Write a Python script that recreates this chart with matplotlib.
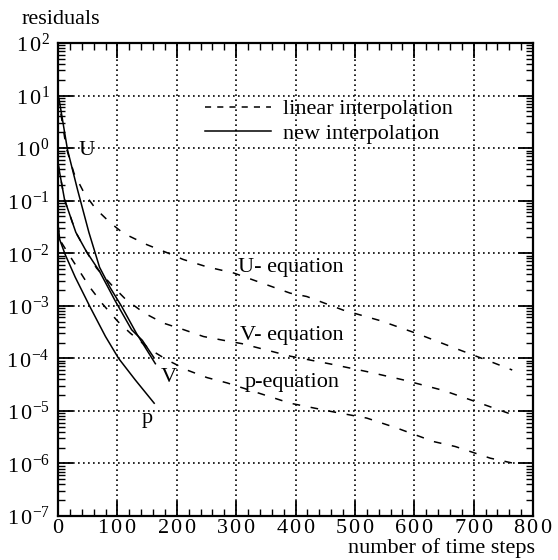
import math

import matplotlib
matplotlib.use("Agg")

import matplotlib.pyplot as plt
from matplotlib.lines import Line2D
from matplotlib.ticker import FuncFormatter, LogLocator, MultipleLocator, NullFormatter

plt.rcParams["font.family"] = "serif"
plt.rcParams["font.serif"] = ["Liberation Serif", "DejaVu Serif"]
plt.rcParams["mathtext.fontset"] = "custom"
plt.rcParams["mathtext.rm"] = "Liberation Serif"
plt.rcParams["mathtext.it"] = "Liberation Serif:italic"
plt.rcParams["mathtext.bf"] = "Liberation Serif:bold"

# new interpolation (solid)
u_new_x = [0, 2, 16, 33, 52, 70, 88, 107, 132, 164]
u_new_y = [10, 8.3, 0.93, 0.16, 0.025, 5.4e-3, 2.2e-3, 9.8e-4, 3.0e-4, 7.9e-5]
v_new_x = [0, 11, 30, 48, 70, 96, 124, 142, 161]
v_new_y = [0.51, 0.105, 0.025, 0.0107, 4.5e-3, 1.26e-3, 3.5e-4, 2.2e-4, 1.05e-4]
p_new_x = [0, 3, 12, 29, 54, 80, 102, 130, 162]
p_new_y = [0.035, 0.018, 0.0095, 3.5e-3, 9.5e-4, 2.6e-4, 1.0e-4, 3.9e-5, 1.4e-5]

# linear interpolation (dashed)
u_lin_x = [0, 14, 27, 44, 63, 88, 110, 150, 184, 211, 251, 296, 391, 419,
           480, 543, 605, 666, 728, 765]
u_lin_y = [10, 1.0, 0.33, 0.14, 0.071, 0.038, 0.024, 0.0145, 0.0102, 7.6e-3,
           5.5e-3, 4.2e-3, 1.74e-3, 1.5e-3, 8.3e-4, 5.2e-4, 2.95e-4, 1.6e-4,
           8.7e-5, 6.0e-5]
v_lin_x = [0, 11, 30, 48, 65, 90, 115, 146, 177, 212, 245, 279, 310, 391,
           459, 520, 581, 649, 711, 773]
v_lin_y = [0.51, 0.105, 0.025, 0.0107, 5.2e-3, 2.5e-3, 1.29e-3, 7.2e-4,
           4.7e-4, 3.5e-4, 2.6e-4, 2.2e-4, 1.9e-4, 1.1e-4, 7.8e-5, 5.6e-5,
           3.9e-5, 2.45e-5, 1.4e-5, 7.9e-6]
p_lin_x = [0, 3, 17, 35, 53, 76, 101, 122, 156, 184, 217, 251, 285, 391,
           459, 520, 571, 633, 669, 728, 765]
p_lin_y = [0.035, 0.018, 0.010, 4.8e-3, 2.3e-3, 1.05e-3, 5.0e-4, 3.0e-4,
           1.45e-4, 9.3e-5, 6.0e-5, 4.3e-5, 3.4e-5, 1.4e-5, 9.8e-6, 7.3e-6,
           4.7e-6, 2.6e-6, 2.1e-6, 1.26e-6, 1.02e-6]

# curve labels: (text, x, y)
curve_labels = [
    ("U", 48, 0.74),
    ("V", 186, 3.6e-5),
    ("p", 151, 5.9e-6),
]
equation_labels = [
    ("U- equation", 304, 4.3e-3),
    ("V- equation", 307, 2.2e-4),
    ("p-equation", 315, 2.85e-5),
]

FS = 16
DASH = (0, (5, 7))

fig = plt.figure(figsize=(5.58, 5.60), dpi=100)
ax = fig.add_axes([58 / 558, 44 / 560, 475 / 558, 473 / 560])

for xs, ys in [(u_new_x, u_new_y), (v_new_x, v_new_y), (p_new_x, p_new_y)]:
    ax.plot(xs, ys, color="black", lw=1.1, solid_joinstyle="round")
for xs, ys in [(u_lin_x, u_lin_y), (v_lin_x, v_lin_y), (p_lin_x, p_lin_y)]:
    ax.plot(xs, ys, color="black", lw=1.1, linestyle=DASH)

ax.set_yscale("log")
ax.set_xlim(0, 800)
ax.set_ylim(1e-7, 1e2)

ax.xaxis.set_major_locator(MultipleLocator(100))
ax.xaxis.set_minor_locator(MultipleLocator(20))
ax.yaxis.set_major_locator(LogLocator(base=10, numticks=20))
ax.yaxis.set_minor_locator(LogLocator(base=10, subs=range(2, 10), numticks=20))
ax.yaxis.set_minor_formatter(NullFormatter())

ax.xaxis.set_major_formatter(FuncFormatter(
    lambda v, pos: r"$\mathregular{" + r"\,".join(str(int(round(v)))) + "}$"))
ax.yaxis.set_major_formatter(FuncFormatter(
    lambda v, pos: r"$\mathregular{1\,0^{%d}}$" % round(math.log10(v))))

ax.tick_params(which="both", direction="in", top=True, right=True,
               labelsize=FS, colors="black")
ax.tick_params(which="major", length=11, width=1.3)
ax.tick_params(which="minor", length=5, width=1.0)
ax.tick_params(axis="y", which="major", pad=6)
ax.tick_params(axis="x", which="major", pad=2)

for side in ax.spines.values():
    side.set_linewidth(1.6)

ax.grid(True, which="major", color="black", linestyle=(0, (1, 2)), lw=1.2)

for text, x, y in curve_labels:
    ax.text(x, y, text, fontsize=FS, ha="center", va="baseline")
for text, x, y in equation_labels:
    ax.text(x, y, text, fontsize=FS, ha="left", va="baseline")

handles = [
    Line2D([], [], color="black", lw=1.1, linestyle=(0, (4, 4))),
    Line2D([], [], color="black", lw=1.1),
]
ax.legend(handles, ["linear interpolation", "new interpolation"],
          loc="upper left", bbox_to_anchor=(0.309, 0.882), frameon=False,
          fontsize=FS, handlelength=3.0, handletextpad=0.5,
          labelspacing=0.17, borderpad=0, borderaxespad=0)

fig.text(22 / 558, 1 - 24 / 560, "residuals", fontsize=FS, ha="left", va="baseline")
fig.text(535 / 558, 7 / 560, "number of time steps", fontsize=FS,
         ha="right", va="baseline")

fig.savefig("out.png", dpi=100)
